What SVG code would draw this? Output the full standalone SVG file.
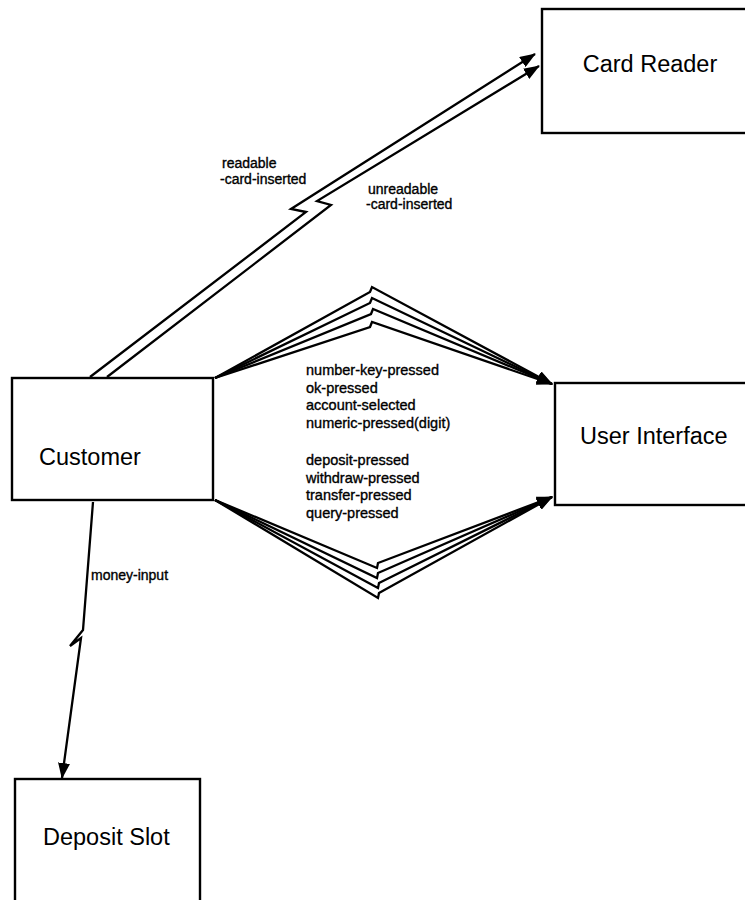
<svg xmlns="http://www.w3.org/2000/svg" width="745" height="900" viewBox="0 0 745 900">
<style>
.box{fill:#fff;stroke:#000;stroke-width:2.4}
.big{font-family:"Liberation Sans",Arial,sans-serif;font-size:23.5px;fill:#000}
.lbl{font-family:"Liberation Sans",Arial,sans-serif;font-size:14px;fill:#000;stroke:#000;stroke-width:0.35}
.mid{font-family:"Liberation Sans",Arial,sans-serif;font-size:14.5px;fill:#000;stroke:#000;stroke-width:0.35}
.ln{fill:none;stroke:#000;stroke-width:2.3;stroke-linejoin:miter}
</style>
<defs>
<marker id="ah" viewBox="0 0 16 12" refX="15" refY="6" markerWidth="16" markerHeight="12" orient="auto" markerUnits="userSpaceOnUse">
<path d="M0,0 L16,6 L0,12 z" fill="#000"/>
</marker>
</defs>
<rect width="745" height="900" fill="#fff"/>
<g id="card-reader">
<rect class="box" x="542" y="9" width="240" height="124"/>
<text class="big" x="650" y="72" text-anchor="middle">Card Reader</text>
</g>
<g id="customer">
<rect class="box" x="12" y="378" width="201" height="122"/>
<text class="big" x="39" y="465">Customer</text>
</g>
<g id="user-interface">
<rect class="box" x="555" y="383" width="220" height="122"/>
<text class="big" x="580" y="444">User Interface</text>
</g>
<g id="deposit-slot">
<rect class="box" x="15" y="779" width="185" height="150"/>
<text class="big" x="43" y="845">Deposit Slot</text>
</g>
<g id="connectors">
<path class="ln" d="M90,377 L306,212 L291,209 L535,54" marker-end="url(#ah)"/>
<path class="ln" d="M107,377 L331,205 L317,201 L539,66" marker-end="url(#ah)"/>
<path class="ln" d="M215,378 L370,292 L372,287 L552,384" marker-end="url(#ah)"/>
<path class="ln" d="M215,378 L370,303 L372,298 L552,384" marker-end="url(#ah)"/>
<path class="ln" d="M215,378 L371,314 L373,309 L552,384" marker-end="url(#ah)"/>
<path class="ln" d="M215,378 L370,327 L372,322 L552,384" marker-end="url(#ah)"/>
<path class="ln" d="M215,500 L377,568 L378,563 L552,497" marker-end="url(#ah)"/>
<path class="ln" d="M215,500 L377,578 L378,573 L552,497" marker-end="url(#ah)"/>
<path class="ln" d="M215,500 L378,588 L379,583 L552,497" marker-end="url(#ah)"/>
<path class="ln" d="M215,500 L378,598 L379,593 L552,497" marker-end="url(#ah)"/>
<path class="ln" d="M93,502 L83,630 L70,646 L81,638 L62,778" marker-end="url(#ah)"/>
<text class="lbl" x="222" y="168">readable</text>
<text class="lbl" x="220" y="184">-card-inserted</text>
<text class="lbl" x="368" y="194">unreadable</text>
<text class="lbl" x="366" y="209">-card-inserted</text>
<text class="lbl" x="91" y="580">money-input</text>
<text class="mid" x="306" y="375">number-key-pressed</text>
<text class="mid" x="306" y="392.5">ok-pressed</text>
<text class="mid" x="306" y="410">account-selected</text>
<text class="mid" x="306" y="427.5">numeric-pressed(digit)</text>
<text class="mid" x="306" y="465">deposit-pressed</text>
<text class="mid" x="306" y="482.5">withdraw-pressed</text>
<text class="mid" x="306" y="500">transfer-pressed</text>
<text class="mid" x="306" y="517.5">query-pressed</text>
</g>
</svg>
